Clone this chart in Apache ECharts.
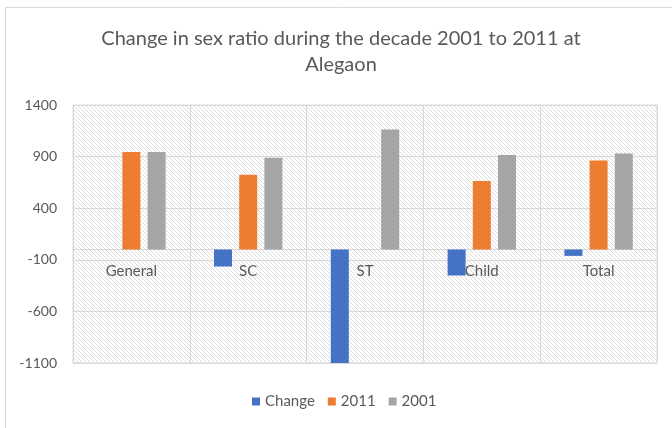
<!DOCTYPE html>
<html>
<head>
<meta charset="utf-8">
<script src="https://cdn.jsdelivr.net/npm/echarts@6/dist/echarts.min.js"></script>
<style>
html,body{margin:0;padding:0;background:#fff;}
#chart{width:672px;height:428px;}
</style>
</head>
<body>
<div id="chart"></div>
<script>
const categories = ['General', 'SC', 'ST', 'Child', 'Total'];
const changeValues = [0, -165, -1162, -252, -62];
const values2011 = [945, 725, 0, 664, 861];
const values2001 = [945, 890, 1162, 916, 929];
const yTicks = [-1100, -600, -100, 400, 900, 1400];

const FONT = 'Lato, "Liberation Sans", sans-serif';
const TXT = '#595959';
const LINE = '#d9d9d9';

const GRID = {left: 73, right: 15, top: 105, bottom: 65};
const H = 428;
const gridH = H - GRID.top - GRID.bottom;
const yMin = yTicks[0], yMax = yTicks[yTicks.length - 1];
// move category axis (line + labels) to the zero line
const zeroOffset = -gridH * (0 - yMin) / (yMax - yMin);

// diagonal hatch pattern for plot area
const pc = document.createElement('canvas');
pc.width = 4; pc.height = 4;
const pctx = pc.getContext('2d');
pctx.fillStyle = '#ffffff';
pctx.fillRect(0, 0, 4, 4);
pctx.fillStyle = '#dcdcdc';
for (let i = 0; i < 4; i++) pctx.fillRect(i, i, 1, 1);

const chart = echarts.init(document.getElementById('chart'), null, {renderer: 'canvas'});
chart.setOption({
  animation: false,
  backgroundColor: '#ffffff',
  textStyle: {fontFamily: FONT},
  title: {
    text: 'Change in sex ratio during the decade 2001 to 2011 at\nAlegaon',
    left: 336,
    textAlign: 'center',
    top: 21,
    textStyle: {fontFamily: FONT, fontSize: 20, fontWeight: 'normal', color: TXT, lineHeight: 26}
  },
  graphic: [{
    type: 'rect', z: -10, silent: true,
    shape: {x: 5.5, y: 7.5, width: 700, height: 500},
    style: {fill: null, stroke: LINE, lineWidth: 1}
  }],
  legend: {
    data: ['Change', '2011', '2001'],
    left: 252, top: 394, padding: 0,
    icon: 'rect', itemWidth: 8, itemHeight: 8, itemGap: 13,
    textStyle: {fontFamily: FONT, fontSize: 15, color: TXT}
  },
  grid: {
    left: GRID.left, right: GRID.right, top: GRID.top, bottom: GRID.bottom,
    show: true,
    backgroundColor: {image: pc, repeat: 'repeat'},
    borderColor: LINE, borderWidth: 1
  },
  xAxis: {
    type: 'category',
    data: categories,
    offset: zeroOffset,
    axisLine: {onZero: false, lineStyle: {color: LINE, width: 1}},
    axisTick: {show: false},
    splitLine: {show: true, lineStyle: {color: LINE, width: 1}},
    axisLabel: {fontFamily: FONT, fontSize: 15, color: TXT, margin: 14}
  },
  yAxis: {
    type: 'value',
    min: yMin, max: yMax, interval: 500,
    axisLine: {show: false},
    axisTick: {show: false},
    splitLine: {show: true, lineStyle: {color: LINE, width: 1}},
    axisLabel: {fontFamily: FONT, fontSize: 14, color: TXT, margin: 16, formatter: v => String(v)}
  },
  series: [
    {name: 'Change', type: 'bar', data: changeValues, barWidth: 18, barGap: '40%', itemStyle: {color: '#4472C4'}},
    {name: '2011', type: 'bar', data: values2011, barWidth: 18, barGap: '40%', itemStyle: {color: '#ED7D31'}},
    {name: '2001', type: 'bar', data: values2001, barWidth: 18, barGap: '40%', itemStyle: {color: '#A5A5A5'}}
  ]
});
</script>
</body>
</html>
